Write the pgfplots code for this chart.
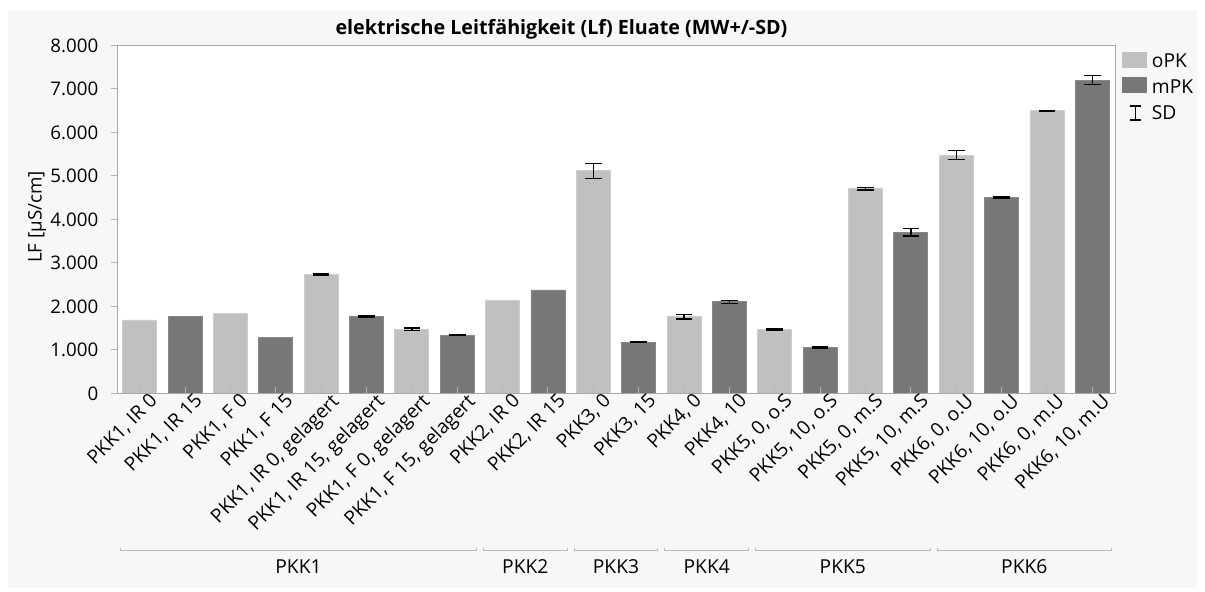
\documentclass[border=0pt]{standalone}
\usepackage{fontspec}
\setmainfont{Open Sans}
\usepackage{pgfplots}
\pgfplotsset{compat=1.18}
\usepackage{pgfplotstable}

\definecolor{lightbar}{HTML}{C0C0C0}
\definecolor{lightedge}{HTML}{CDCDCD}
\definecolor{darkbar}{HTML}{777777}
\definecolor{darkedge}{HTML}{888888}
\definecolor{panel}{HTML}{F7F7F7}
\definecolor{axgray}{HTML}{A8A8A8}
\definecolor{tickgray}{HTML}{B4B4B4}
\definecolor{bracketgray}{HTML}{B8B8B8}

\newcommand{\fs}{\fontsize{19.3}{22}\selectfont}
\newcommand{\fy}{\fontsize{18.8}{22}\selectfont}

\pgfplotstableread{
x y
0 1690
2 1845
4 2730
6 1475
8 2130
10 5120
12 1765
14 1475
16 4710
18 5480
20 6500
}\oPK
\pgfplotstableread{
x y
1 1765
3 1290
5 1765
7 1340
9 2380
11 1180
13 2110
15 1060
17 3705
19 4510
21 7205
}\mPK
\pgfplotstableread{
x y e
4 2730 15
5 1765 15
6 1475 30
7 1340 12
10 5120 170
11 1180 12
12 1765 55
13 2110 35
14 1475 15
15 1060 12
16 4710 30
17 3705 85
18 5480 100
19 4510 15
20 6500 10
21 7205 107
}\sdtab

\begin{document}
\begin{tikzpicture}[x=1bp,y=1bp]
\useasboundingbox (0,0) rectangle (1205,592);
\fill[white] (0,0) rectangle (1205,592);
\fill[panel] (8,4) rectangle (1197,582);
\begin{axis}[
  at={(117bp,198.5bp)}, anchor=south west,
  scale only axis, width=998bp, height=348bp,
  xmin=-0.5, xmax=21.5, ymin=0, ymax=8000,
  axis background/.style={fill=white},
  axis line style={axgray, line width=1bp},
  axis on top,
  tick pos=left,
  xtick={0,...,21},
  xticklabels={{PKK1, IR 0},{PKK1, IR 15},{PKK1, F 0},{PKK1, F 15},{PKK1, IR 0, gelagert},{PKK1, IR 15, gelagert},{PKK1, F 0, gelagert},{PKK1, F 15, gelagert},{PKK2, IR 0},{PKK2, IR 15},{PKK3, 0},{PKK3, 15},{PKK4, 0},{PKK4, 10},{PKK5, 0, o.S},{PKK5, 10, o.S},{PKK5, 0, m.S},{PKK5, 10, m.S},{PKK6, 0, o.U},{PKK6, 10, o.U},{PKK6, 0, m.U},{PKK6, 10, m.U}},
  ytick={0,1000,...,8000},
  scaled y ticks=false,
  xtick align=inside, ytick align=outside,
  major tick length=6.5bp,
  tick style={tickgray, line width=1bp},
  yticklabel style={font=\fy, anchor=east, inner sep=0pt, xshift=-12bp,
    /pgf/number format/.cd, fixed, 1000 sep={.}, assume math mode=true},
  xticklabel style={font=\fs, rotate=45, anchor=north east, inner sep=0pt, xshift=7bp, yshift=-5bp},
]
\addplot[ybar, bar width=34bp, bar shift=0pt, fill=lightbar, draw=lightedge, line width=0.8bp] table[x=x,y=y] {\oPK};
\addplot[ybar, bar width=34bp, bar shift=0pt, fill=darkbar, draw=darkedge, line width=0.8bp] table[x=x,y=y] {\mPK};
\addplot[draw=none, mark=none,
  error bars/.cd, y dir=both, y explicit,
  error bar style={draw=black, line width=1.3bp},
  error mark options={draw=black, line width=1.3bp, mark size=8.3bp, rotate=90}]
  table[x=x,y=y,y error=e] {\sdtab};
\end{axis}
% title
\node[anchor=base, font=\fontsize{19.8}{22}\selectfont\bfseries] at (561.5,557) {elektrische Leitfähigkeit (Lf) Eluate (MW+/-SD)};
% y label
\node[rotate=90, font=\fy] at (37,375) {LF [µS/cm]};
% legend
\fill[lightbar] (1122.3,524.3) rectangle (1146.7,540.3);
\fill[darkbar] (1122.3,498.7) rectangle (1146.7,515.3);
\draw[black, line width=1.2bp] (1135.3,486) -- (1135.3,472) (1129.5,486) -- (1141.1,486) (1129.5,472) -- (1141.1,472);
\node[anchor=base west, inner sep=0pt, font=\fs] at (1151.7,524.3) {oPK};
\node[anchor=base west, inner sep=0pt, font=\fs] at (1151.7,498.7) {mPK};
\node[anchor=base west, inner sep=0pt, font=\fs] at (1151.7,472.7) {SD};
% group brackets
\foreach \a/\b/\n in {0/8/PKK1, 8/10/PKK2, 10/12/PKK3, 12/14/PKK4, 14/18/PKK5, 18/22/PKK6} {
  \draw[bracketgray, line width=1bp] ({117+\a*45.3636+3.5},44.3) -- ({117+\a*45.3636+3.5},41.3) -- ({117+\b*45.3636-3.5},41.3) -- ({117+\b*45.3636-3.5},44.3);
  \node[anchor=base, font=\fs] at ({117+(\a+\b)*45.3636/2},18.7) {\n};
}
\end{tikzpicture}
\end{document}
